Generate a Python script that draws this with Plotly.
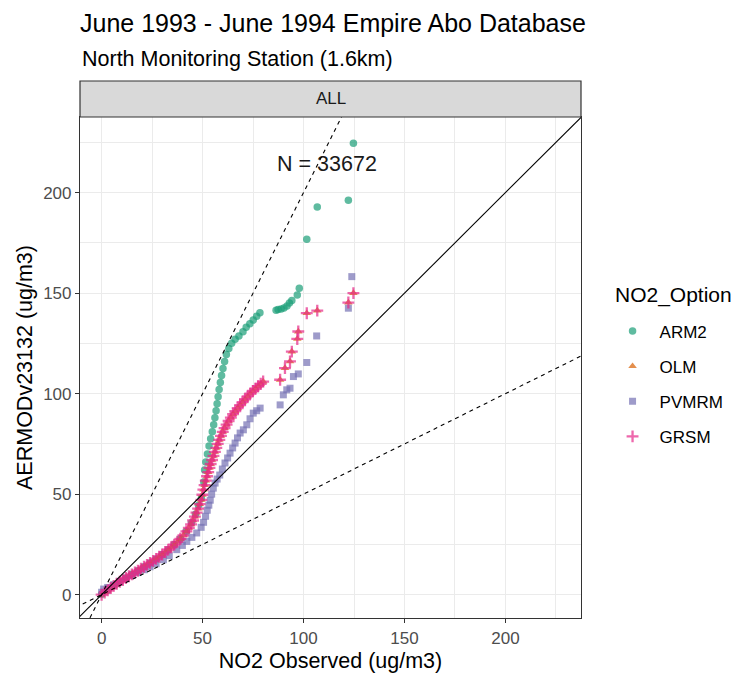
import plotly.graph_objects as go

# ---------------- data ----------------
options = ["ARM2", "OLM", "PVMRM", "GRSM"]

grsm_obs = [0, 1.5, 3, 4.5, 6, 7.5, 9, 10.5, 12, 13.5, 15, 16.5, 18, 19.5, 21, 22.5, 24, 25.5,
            27, 28.5, 30, 31.5, 33, 34.5, 36, 37.5, 39, 40.5, 42, 43.2, 44.3, 45.3, 46.2, 47.0,
            47.8, 48.6, 49.4, 49.9, 50.4, 51.0, 51.6, 52.2, 52.8, 53.4, 54.0, 54.7, 55.4, 56.1,
            56.8, 57.5, 58.3, 59.1, 60.0, 60.9, 61.9, 62.9, 64.0, 65.1, 66.2, 67.4, 68.6, 69.8,
            71.0, 72.3, 73.6, 74.9, 76.2, 77.5, 78.8, 80.0,
            88.4, 90.8, 93.3, 94.2, 96.9, 97.4, 101.6, 106.8, 122.2, 124.7]
grsm_mod = [0, 1.1, 2.2, 3.3, 4.4, 5.4, 6.4, 7.3, 8.3, 9.2, 10.1, 11.0, 11.9, 12.9, 13.9, 14.8, 15.8, 16.8,
            17.8, 18.9, 20.0, 21.2, 22.4, 23.6, 24.9, 26.3, 27.8, 29.5, 31.5, 33.2, 35.0, 36.9, 38.8, 40.8,
            42.8, 45.0, 47.2, 49.7, 52.3, 54.5, 56.7, 58.9, 61.0, 63.1, 65.0, 67.0, 69.0, 71.0,
            73.0, 75.0, 77.0, 79.0, 81.0, 82.8, 84.6, 86.4, 88.1, 89.8, 91.3, 92.8, 94.3, 95.8,
            97.2, 98.6, 100.0, 101.3, 102.5, 103.7, 104.9, 106.0,
            106.9, 112.7, 116.0, 120.9, 127.2, 130.9, 140.0, 141.3, 145.3, 150.0]

# OLM lies underneath GRSM almost everywhere in the picture
olm_obs = list(grsm_obs)
olm_mod = list(grsm_mod)

pvmrm_obs = [0, 1, 3, 6, 9, 12, 15, 18, 21, 24, 27, 30.6, 33.5, 37.2, 40, 42.2, 44.7, 47.1, 49.3,
             50.5, 51.5, 52.3, 53.1, 53.8, 54.5, 55.3, 56.2, 57.2, 58.5, 59.8, 61.1, 62.4, 63.6,
             64.9, 66.1, 67.3, 68.6, 70.2, 71.9, 73.5, 75.1, 76.8, 78.5,
             88.4, 90.0, 91.7, 93.3, 95.0, 97.4, 101.6, 106.5, 122.2, 123.9]
pvmrm_mod = [1.2, 2.8, 3.6, 5.0, 6.6, 8.2, 9.6, 11.0, 12.4, 13.9, 15.4, 17.4, 19.4, 22.4, 24.5, 26.5, 28.5, 30.7, 33.5,
             36.0, 39.0, 42.0, 44.5, 47.0, 50.0, 53.0, 55.5, 57.5, 59.5, 62.5, 65.5, 68.0, 70.4,
             73.0, 75.4, 78.0, 80.4, 82.0, 84.5, 87.5, 90.3, 91.5, 92.8,
             94.4, 99.4, 101.9, 102.7, 108.5, 109.8, 115.5, 128.7, 142.5, 158.2]

arm2_obs = [0, 3, 6, 9, 12, 15, 18, 21, 24, 27, 30, 33, 36, 39, 42, 44.5, 46.5, 48.0, 49.4,
            50.6, 51.0, 51.6, 52.4, 53.2, 54.0, 54.8, 55.5, 56.1, 56.7, 57.2, 57.7, 58.2, 58.8,
            59.4, 60.1, 60.9, 61.8, 63.0, 64.4, 66.1, 68.0, 70.0, 71.6, 73.4, 75.1, 76.8, 78.4,
            86.4, 87.4, 88.9, 90.3, 91.8, 93.0, 94.2, 96.9, 97.9, 101.6, 106.8, 122.2, 124.7]
arm2_mod = [0.2, 2.2, 4.4, 6.4, 8.3, 10.1, 11.9, 13.9, 15.8, 17.8, 20.0, 22.4, 24.9, 27.8, 31.5, 35.8, 40.0, 44.5, 48.0,
            56.0, 62.0, 66.0, 70.0, 74.0, 77.5, 81.0, 84.5, 88.0, 91.5, 95.0, 98.5, 102.0, 105.5,
            109.0, 112.5, 116.0, 119.5, 122.5, 125.0, 127.0, 128.7, 130.8, 133.0, 134.7, 136.6, 138.5, 140.2,
            141.5, 141.9, 142.1, 142.6, 143.6, 145.1, 146.3, 149.1, 152.4, 176.8, 192.8, 196.2, 224.5, 227.0]

series_obs = {"ARM2": arm2_obs, "OLM": olm_obs, "PVMRM": pvmrm_obs, "GRSM": grsm_obs}
series_mod = {"ARM2": arm2_mod, "OLM": olm_mod, "PVMRM": pvmrm_mod, "GRSM": grsm_mod}

ref_slopes = [2.0, 1.0, 0.5]          # factor-of-two and 1:1 reference lines
ref_x = [-20, 260]
n_label = "N = 33672"
n_pos = (111.6, 213.5)

x_ticks = [0, 50, 100, 150, 200]
y_ticks = [0, 50, 100, 150, 200]

# ---------------- styles ----------------
FONT = "Liberation Sans, Arial, sans-serif"
colors = {"ARM2": "#1B9E77", "OLM": "#D95F02", "PVMRM": "#7570B3", "GRSM": "#E7298A"}
symbols = {"ARM2": "circle", "OLM": "triangle-up", "PVMRM": "square", "GRSM": "cross-thin"}
sizes = {"ARM2": 7.5, "OLM": 7.5, "PVMRM": 7, "GRSM": 8.5}

fig = go.Figure()
for name in options:
    c = colors[name]
    if name == "GRSM":
        marker = dict(symbol=symbols[name], size=sizes[name], color=c, opacity=0.7,
                      line=dict(color=c, width=2.3))
    else:
        marker = dict(symbol=symbols[name], size=sizes[name], color=c, opacity=0.7,
                      line=dict(width=0))
    fig.add_trace(go.Scatter(x=series_obs[name], y=series_mod[name], mode="markers",
                             name=name, legendgroup=name, marker=marker))

fig.add_trace(go.Scatter(x=[n_pos[0]], y=[n_pos[1]], mode="text", text=[n_label],
                         textposition="middle center",
                         textfont=dict(family=FONT, size=21.5, color="#1A1A1A"),
                         showlegend=False, hoverinfo="skip"))

for s in ref_slopes:
    fig.add_trace(go.Scatter(x=ref_x, y=[s * v for v in ref_x], mode="lines",
                             line=dict(color="black", width=1.1,
                                       dash="solid" if s == 1.0 else "4px,4px"),
                             showlegend=False, hoverinfo="skip"))

axis_common = dict(
    tickmode="array", ticks="outside", ticklen=4, tickwidth=1.1, tickcolor="#333333",
    tickfont=dict(family=FONT, size=17, color="#4D4D4D"),
    showgrid=True, gridcolor="#EBEBEB", gridwidth=1.2,
    minor=dict(dtick=25, tick0=0, showgrid=True, gridcolor="#EBEBEB", gridwidth=0.7, ticks=""),
    showline=True, mirror=True, linecolor="#333333", linewidth=1.2, zeroline=False,
    automargin=False,
)

fig.update_layout(
    width=739, height=677,
    margin=dict(l=80, r=158, t=117, b=59, autoexpand=False),
    paper_bgcolor="white", plot_bgcolor="white",
    font=dict(family=FONT, color="black"),
    title=dict(text="June 1993 - June 1994 Empire Abo Database", x=0, xref="paper", xanchor="left",
               y=1 - 23.5 / 677, yref="container", yanchor="middle",
               font=dict(family=FONT, size=25, color="black")),
    xaxis=dict(range=[-10.7, 237.4], tickvals=x_ticks, ticktext=[str(v) for v in x_ticks],
               title=dict(text="NO2 Observed (ug/m3)", standoff=6,
                          font=dict(family=FONT, size=21.5, color="black")),
               **axis_common),
    yaxis=dict(range=[-11.6, 237.6], tickvals=y_ticks, ticktext=[str(v) for v in y_ticks],
               title=dict(text="AERMODv23132 (ug/m3)", standoff=4,
                          font=dict(family=FONT, size=21.5, color="black")),
               **axis_common),
    legend=dict(font=dict(family=FONT, size=17, color="black"),
                x=1.049, xanchor="left", y=(618 - 313.5) / 501, yanchor="top",
                itemwidth=44, tracegroupgap=10, bgcolor="rgba(0,0,0,0)"),
    showlegend=True,
)

# facet strip
fig.add_shape(type="rect", xref="paper", yref="paper", x0=0, x1=1, y0=1, y1=1 + 36 / 501,
              fillcolor="#D9D9D9", line=dict(color="#333333", width=1.2))
fig.add_annotation(text="ALL", xref="paper", yref="paper", x=0.5, y=1 + 18 / 501,
                   xanchor="center", yanchor="middle",
                   showarrow=False, font=dict(family=FONT, size=17, color="#1A1A1A"))
# subtitle
fig.add_annotation(text="North Monitoring Station (1.6km)", xref="paper", yref="paper",
                   x=0, y=(618 - 59) / 501, xanchor="left", yanchor="middle", showarrow=False,
                   font=dict(family=FONT, size=21.5, color="black"))
# legend title
fig.add_annotation(text="NO2_Option", xref="paper", yref="paper",
                   x=(613 - 80) / 501, y=(618 - 295) / 501, xanchor="left", yanchor="middle",
                   showarrow=False, font=dict(family=FONT, size=21, color="black"))

fig.write_html("out.html", config={"displayModeBar": False},
               post_script="document.body.style.margin='0';document.body.style.padding='0';")
